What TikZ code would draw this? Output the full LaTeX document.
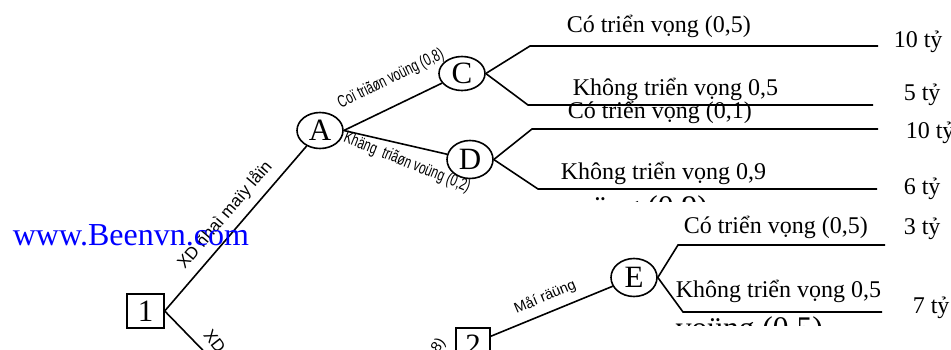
\documentclass[tikz,border=0pt]{standalone}
\usepackage{fontspec}
\usepackage{graphicx}
\setmainfont{Liberation Serif}
\newfontfamily\arialf{Liberation Sans}
\usetikzlibrary{shapes.geometric}
\begin{document}
\begin{tikzpicture}[x=1pt,y=-1pt,line width=1.6pt,
  chance/.style={ellipse,draw,minimum width=46pt,minimum height=36pt,inner sep=0pt,font=\fontsize{31}{31}\selectfont},
  decision/.style={rectangle,draw,minimum width=37pt,minimum height=34pt,inner sep=0pt,line width=1.4pt,font=\fontsize{31}{31}\selectfont},
  lbl/.style={font=\fontsize{24}{24}\selectfont,inner sep=0pt,anchor=base west},
  biglbl/.style={font=\fontsize{31.5}{31.5}\selectfont,inner sep=0pt,anchor=base west},
  edgelbl/.style={font=\arialf\fontsize{15}{15}\selectfont,inner sep=0pt}]
\useasboundingbox (0,0) rectangle (951,349);
\clip (0,0) rectangle (951,349);

% nodes
\node[decision] (b1) at (145.5,311) {1};
\node[chance] (A) at (320,130.5) {A};
\node[chance,minimum height=34pt] (C) at (462,73.5) {C};
\node[chance,minimum height=38pt] (D) at (470,159.5) {D};
\node[chance,minimum height=38pt] (E) at (634,277.5) {E};
\node[decision,minimum width=34pt] (b2) at (473,345) {2};

% branch end points
\coordinate (c1) at (530,46);  \coordinate (c1e) at (878,46);
\coordinate (c2) at (528,105); \coordinate (c2e) at (873,105);
\coordinate (d1) at (532,129); \coordinate (d1e) at (878,129);
\coordinate (d2) at (538,189); \coordinate (d2e) at (877,189);
\coordinate (e1) at (678,245); \coordinate (e1e) at (885,245);
\coordinate (e2) at (683,312); \coordinate (e2e) at (882,312);
\coordinate (bdown) at (260,409);

% connectors
\draw (b1.east) -- (A);
\draw (b1.east) -- (bdown);
\draw (A.east) -- (C);
\draw (A.east) -- (D);
\draw (C.east) -- (c1) -- (c1e);
\draw (C.east) -- (c2) -- (c2e);
\draw (D.east) -- (d1) -- (d1e);
\draw (D.east) -- (d2) -- (d2e);
\draw ([yshift=-9pt]b2.north east) -- (E);
\draw (E.east) -- (e1) -- (e1e);
\draw (E.east) -- (e2) -- (e2e);

% edge labels
\node[edgelbl,rotate=26,font=\arialf\fontsize{17}{17}\selectfont] (lAC) at (391,79) {\scalebox{0.7}[1]{Coï triãøn voüng (0,8)}};
\node[edgelbl,rotate=-22,font=\arialf\fontsize{17}{17}\selectfont] (lAD) at (407,163) {\scalebox{0.7}[1]{Khäng\ \ triãøn voüng (0,2)}};
\node[edgelbl,rotate=49.5,font=\arialf\fontsize{17}{17}\selectfont] (l1A) at (225,215) {XD ñhaì maïy låïn};
\node[edgelbl,rotate=-52,anchor=west,font=\arialf\fontsize{17}{17}\selectfont] (l1B) at (207,331) {XD};
\node[edgelbl,rotate=23,font=\arialf\fontsize{14.5}{14.5}\selectfont] (l2E) at (545,297) {Måí räüng};
\node[edgelbl,rotate=55,anchor=east] (l2in) at (443,340) {(0,8)};

% outcome labels
\node[lbl] (t1) at (566,32) {Có triển vọng (0,5)};
\node[lbl] (v1) at (893,47) {10 tỷ};
\node[lbl] (t2) at (572,95) {Không triển vọng 0,5};
\node[lbl] (v2) at (903,100) {5 tỷ};
\node[lbl] (t3) at (567,118) {Có triển vọng (0,1)};
\node[lbl] (v3) at (905,138) {10 tỷ};
\node[lbl] (t4) at (560,179) {Không triển vọng 0,9};
\node[lbl] (v4) at (903,194) {6 tỷ};
\node[lbl] (t5) at (683,233) {Có triển vọng (0,5)};
\node[lbl] (v5) at (903,234) {3 tỷ};
\node[lbl] (t6) at (675,297) {Không triển vọng 0,5};
\node[lbl] (v6) at (912,313) {7 tỷ};

\begin{scope}
  \clip (540,0) rectangle (951,201);
  \node[biglbl] (h1) at (560,217) {voüng (0,9)};
\end{scope}
\begin{scope}
  \clip (660,0) rectangle (951,325);
  \node[biglbl] (h2) at (675,338) {voüng (0,5)};
\end{scope}

\node[font=\fontsize{32}{32}\selectfont,text=blue,anchor=base west,inner sep=0pt] (web) at (12,245) {www.Beenvn.com};
\end{tikzpicture}
\end{document}
